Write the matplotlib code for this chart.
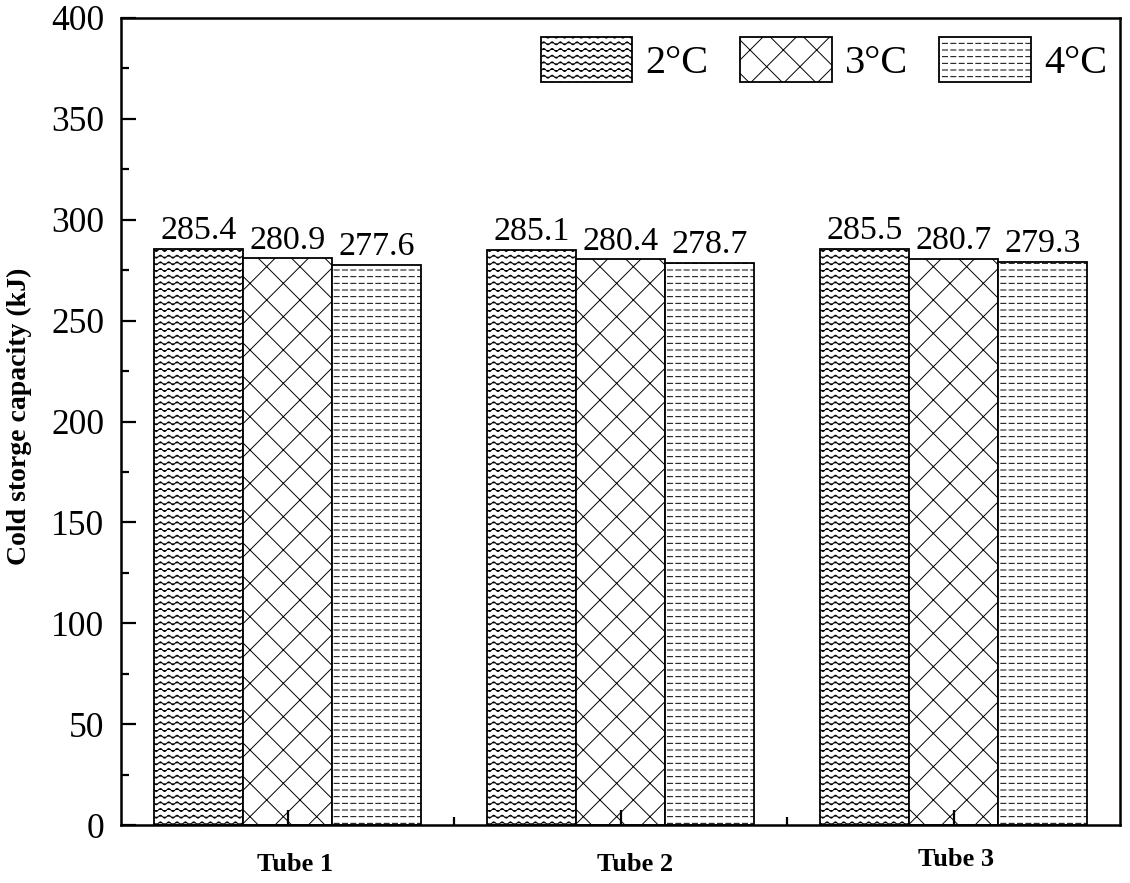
import warnings
warnings.filterwarnings("ignore")
import numpy as np
import matplotlib
matplotlib.use("Agg")
import matplotlib.pyplot as plt
import matplotlib.hatch as mhatch
import matplotlib.transforms as mtransforms
from matplotlib.path import Path
from matplotlib.ticker import MultipleLocator, FixedLocator

# ---------------- data ----------------
categories = ["Tube 1", "Tube 2", "Tube 3"]
series_labels = ["2\u00b0C", "3\u00b0C", "4\u00b0C"]
values_2C = [285.4, 285.1, 285.5]
values_3C = [280.9, 280.4, 280.7]
values_4C = [277.6, 278.7, 279.3]
y_ticks = [0, 50, 100, 150, 200, 250, 300, 350, 400]
y_label = "Cold storge capacity (kJ)"


# ---------------- custom hatch patterns ----------------
class WavyHatch(mhatch.HatchPatternBase):
    rows = 15
    periods = 12
    pts_per_period = 8
    amp = 0.015

    def __init__(self, hatch, density):
        self.n = hatch.count('w')
        npts = self.periods * self.pts_per_period + 1
        self.npts = npts
        self.num_vertices = self.rows * npts if self.n else 0

    def set_vertices_and_codes(self, vertices, codes):
        xs = np.linspace(0, 1, self.npts)
        for i in range(self.rows):
            y0 = (i + 0.5) / self.rows
            ys = y0 + self.amp * np.sin(2 * np.pi * self.periods * xs)
            s = slice(i * self.npts, (i + 1) * self.npts)
            vertices[s, 0] = xs
            vertices[s, 1] = ys
            codes[s] = Path.LINETO
            codes[i * self.npts] = Path.MOVETO


class DiamondHatch(mhatch.HatchPatternBase):
    nl = 3

    def __init__(self, hatch, density):
        self.n = hatch.count('d')
        self.k = 2 * self.nl + 1
        self.num_vertices = 2 * 2 * self.k if self.n else 0

    def set_vertices_and_codes(self, vertices, codes):
        k = self.k
        cs = np.arange(-self.nl, self.nl + 1) / self.nl  # x - y = c
        v1 = vertices[:2 * k]
        c1 = codes[:2 * k]
        v1[0::2, 0] = 0.0
        v1[0::2, 1] = -cs
        v1[1::2, 0] = 1.0
        v1[1::2, 1] = 1.0 - cs
        c1[0::2] = Path.MOVETO
        c1[1::2] = Path.LINETO
        ds = np.arange(0, 2 * self.nl + 1) / self.nl  # x + y = d
        v2 = vertices[2 * k:]
        c2 = codes[2 * k:]
        v2[0::2, 0] = 0.0
        v2[0::2, 1] = ds
        v2[1::2, 0] = 1.0
        v2[1::2, 1] = ds - 1.0
        c2[0::2] = Path.MOVETO
        c2[1::2] = Path.LINETO


class DashHatch(mhatch.HatchPatternBase):
    rows = 15
    dashes = 12
    dash_frac = 0.6

    def __init__(self, hatch, density):
        self.n = hatch.count('s')
        self.num_vertices = self.rows * self.dashes * 2 if self.n else 0

    def set_vertices_and_codes(self, vertices, codes):
        per = 1.0 / self.dashes
        idx = 0
        for i in range(self.rows):
            y = (i + 0.5) / self.rows
            for j in range(self.dashes):
                x0 = j * per + 0.1 * per
                vertices[idx] = (x0, y)
                vertices[idx + 1] = (x0 + self.dash_frac * per, y)
                codes[idx] = Path.MOVETO
                codes[idx + 1] = Path.LINETO
                idx += 2


mhatch._hatch_types.extend([WavyHatch, DiamondHatch, DashHatch])

# ---------------- styling ----------------
plt.rcParams['font.family'] = ['Liberation Serif', 'DejaVu Serif']
plt.rcParams['hatch.linewidth'] = 0.7
plt.rcParams['hatch.color'] = 'black'

fig = plt.figure(figsize=(11.3, 8.83), dpi=100)
ax = fig.add_axes([121 / 1130, 1 - 825 / 883, (1120 - 121) / 1130, (825 - 18) / 883])

x = np.arange(1, len(categories) + 1)
width = 0.8 / 3
series = [values_2C, values_3C, values_4C]
hatches = ['w', 'd', 's']
offsets = [-width, 0, width]

for vals, h, off, lab in zip(series, hatches, offsets, series_labels):
    bc = ax.bar(x + off, vals, width, color='white', edgecolor='black',
                linewidth=1.3, hatch=h, label=lab)
    ax.bar_label(bc, labels=[f"{v:.1f}" for v in vals], padding=2, fontsize=24.5)

ax.set_xlim(0.5, 3.5)
ax.set_ylim(0, 400)
ax.set_yticks(y_ticks)
ax.yaxis.set_minor_locator(MultipleLocator(25))
ax.set_xticks(x)
ax.set_xticklabels(categories, fontweight='bold', fontsize=19)
ax.xaxis.set_minor_locator(FixedLocator([1.5, 2.5]))

ax.tick_params(axis='y', which='major', direction='in', length=11, width=1.6,
               labelsize=25.5, pad=12, right=False)
ax.tick_params(axis='y', which='minor', direction='in', length=6, width=1.6, right=False)
ax.tick_params(axis='x', which='major', direction='in', length=11, width=1.6,
               pad=20, top=False)
ax.tick_params(axis='x', which='minor', direction='in', length=6, width=1.6, top=False)

# slight manual offsets of the category labels as in the reference
label_shifts_px = [(8, 0), (15, 0), (3, 5)]
for lbl, (dx, dy) in zip(ax.get_xticklabels(), label_shifts_px):
    lbl.set_transform(lbl.get_transform() +
                      mtransforms.ScaledTranslation(dx / 100, dy / 100, fig.dpi_scale_trans))

for sp in ax.spines.values():
    sp.set_linewidth(1.8)

ax.set_ylabel(y_label, fontweight='bold', fontsize=20)
ax.yaxis.set_label_coords(-0.0895, 0.507)

leg = ax.legend(loc='center right', bbox_to_anchor=(0.987, 0.9486), ncol=3,
                frameon=False, fontsize=29, handlelength=2.28, handleheight=1.32,
                handletextpad=0.32, columnspacing=0.78, borderaxespad=0, borderpad=0)

fig.savefig("out.png", dpi=100)
